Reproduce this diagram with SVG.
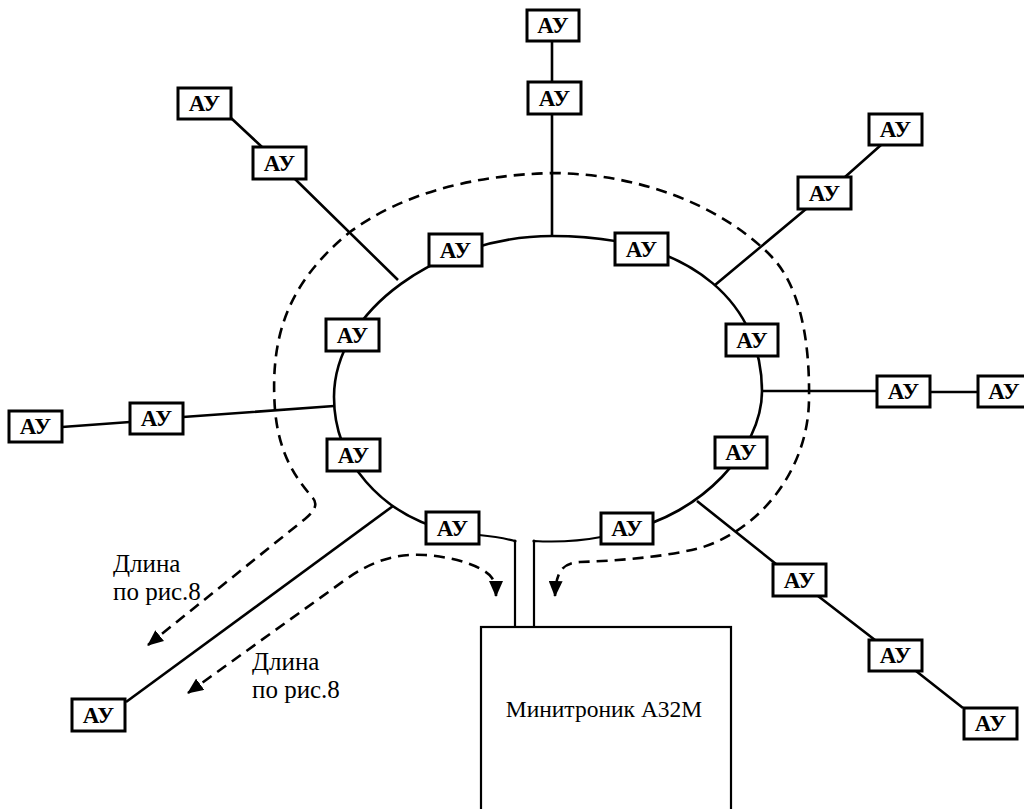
<svg xmlns="http://www.w3.org/2000/svg" width="1024" height="809" viewBox="0 0 1024 809">
<style>
.bg{fill:#fff}
.wire{fill:none;stroke:#000;stroke-width:2.6;stroke-linecap:butt}
.thin{fill:none;stroke:#000;stroke-width:2.2}
.dash{fill:none;stroke:#000;stroke-width:2.6;stroke-dasharray:11 7}
.box{fill:#fff;stroke:#000;stroke-width:3}
.au{font-family:"Liberation Serif","Times New Roman",serif;font-weight:bold;font-size:23px;text-anchor:middle;fill:#000}
.lbl{font-family:"Liberation Serif","Times New Roman",serif;font-size:25px;fill:#000}
.big{font-family:"Liberation Serif","Times New Roman",serif;font-size:23.5px;text-anchor:middle;fill:#000}
</style>
<defs>
<marker id="arr" viewBox="0 0 16 14" refX="15" refY="7" markerWidth="16" markerHeight="14" markerUnits="userSpaceOnUse" orient="auto-start-reverse">
<path d="M0,0 L16,7 L0,14 Z" fill="#000"/>
</marker>
</defs>
<rect class="bg" x="0" y="0" width="1024" height="809"/>
<g id="connectors">
<path class="wire" d="M452,532 C380,515 334,460 334,397 C334,310 440,236 552,236 C700,236 762,310 762,391 C762,450 700,515 627,530"/>
<path class="thin" d="M479,535 Q500,537 515,541 L515,627"/>
<path class="thin" d="M601,537 Q570,543 534,541 L534,627"/>
<circle cx="515" cy="541" r="1.6"/>
<circle cx="534" cy="541" r="1.6"/>
<path class="wire" d="M552,42 L552,82 M552,114 L552,236"/>
<path class="wire" d="M231,118 L262,147 M295,179 L398,280"/>
<path class="wire" d="M881,145 L845,177 M806,209 L715,285"/>
<path class="wire" d="M62,427 L130,422 M183,417 L334,406"/>
<path class="wire" d="M762,391 L877,391 M930,392 L978,392"/>
<path class="wire" d="M697,501 L776,564 M818,596 L875,640 M916,671 L963,708"/>
<path class="wire" d="M393,506 L126,702"/>
<path class="dash" marker-start="url(#arr)" marker-end="url(#arr)" d="M148,645 L305,519 C316,510 318,503 312,497 C296,478 279,455 275,410 C270,340 285,285 350,232 C400,195 470,175 553,173 C640,174 720,205 770,255 C800,285 810,340 809,400 C808,470 760,530 700,548 C660,558 610,561 580,562 C562,563 556,572 555,596"/>
<path class="dash" marker-start="url(#arr)" marker-end="url(#arr)" d="M188,693 L345,580 C370,562 395,553 425,555 C455,557 485,567 492,578 C496,584 496,590 496,596"/>
</g>
<g id="minitronik">
<rect x="481" y="627" width="250" height="200" fill="#fff" stroke="#000" stroke-width="2.2"/>
<text class="big" x="604" y="717">Минитроник А32М</text>
</g>
<g id="label1"><text class="lbl" x="113" y="572">Длина</text><text class="lbl" x="113" y="600">по рис.8</text></g>
<g id="label2"><text class="lbl" x="252" y="670">Длина</text><text class="lbl" x="252" y="698">по рис.8</text></g>
<g id="au-top1"><rect class="box" x="527" y="10" width="52" height="31"/><text class="au" x="553" y="33">АУ</text></g>
<g id="au-top2"><rect class="box" x="528" y="82" width="53" height="32"/><text class="au" x="554.5" y="105.5">АУ</text></g>
<g id="au-tl1"><rect class="box" x="178" y="88" width="53" height="31"/><text class="au" x="204.5" y="111">АУ</text></g>
<g id="au-tl2"><rect class="box" x="253" y="147" width="53" height="32"/><text class="au" x="279.5" y="170.5">АУ</text></g>
<g id="au-ring-tl"><rect class="box" x="429" y="234" width="53" height="32"/><text class="au" x="455.5" y="257.5">АУ</text></g>
<g id="au-ring-tr"><rect class="box" x="615" y="233" width="53" height="32"/><text class="au" x="641.5" y="256.5">АУ</text></g>
<g id="au-tr1"><rect class="box" x="869" y="114" width="53" height="31"/><text class="au" x="895.5" y="137">АУ</text></g>
<g id="au-tr2"><rect class="box" x="798" y="177" width="53" height="32"/><text class="au" x="824.5" y="200.5">АУ</text></g>
<g id="au-ring-l1"><rect class="box" x="326" y="319" width="53" height="32"/><text class="au" x="352.5" y="342.5">АУ</text></g>
<g id="au-ring-l2"><rect class="box" x="327" y="439" width="53" height="32"/><text class="au" x="353.5" y="462.5">АУ</text></g>
<g id="au-ring-r1"><rect class="box" x="726" y="324" width="52" height="32"/><text class="au" x="752" y="347.5">АУ</text></g>
<g id="au-ring-r2"><rect class="box" x="715" y="437" width="52" height="31"/><text class="au" x="741" y="460">АУ</text></g>
<g id="au-ring-b1"><rect class="box" x="426" y="512" width="53" height="32"/><text class="au" x="452.5" y="535.5">АУ</text></g>
<g id="au-ring-b2"><rect class="box" x="601" y="513" width="52" height="31"/><text class="au" x="627" y="536">АУ</text></g>
<g id="au-l1"><rect class="box" x="9" y="411" width="53" height="31"/><text class="au" x="35.5" y="434">АУ</text></g>
<g id="au-l2"><rect class="box" x="130" y="403" width="53" height="31"/><text class="au" x="156.5" y="426">АУ</text></g>
<g id="au-r1"><rect class="box" x="877" y="376" width="53" height="31"/><text class="au" x="903.5" y="399">АУ</text></g>
<g id="au-r2"><rect class="box" x="978" y="376" width="53" height="31"/><text class="au" x="1004" y="399">АУ</text></g>
<g id="au-bl"><rect class="box" x="72" y="699" width="53" height="32"/><text class="au" x="98.5" y="722.5">АУ</text></g>
<g id="au-br1"><rect class="box" x="773" y="564" width="53" height="32"/><text class="au" x="799.5" y="587.5">АУ</text></g>
<g id="au-br2"><rect class="box" x="869" y="640" width="53" height="31"/><text class="au" x="895.5" y="663">АУ</text></g>
<g id="au-br3"><rect class="box" x="964" y="708" width="53" height="31"/><text class="au" x="990.5" y="731">АУ</text></g>
</svg>
